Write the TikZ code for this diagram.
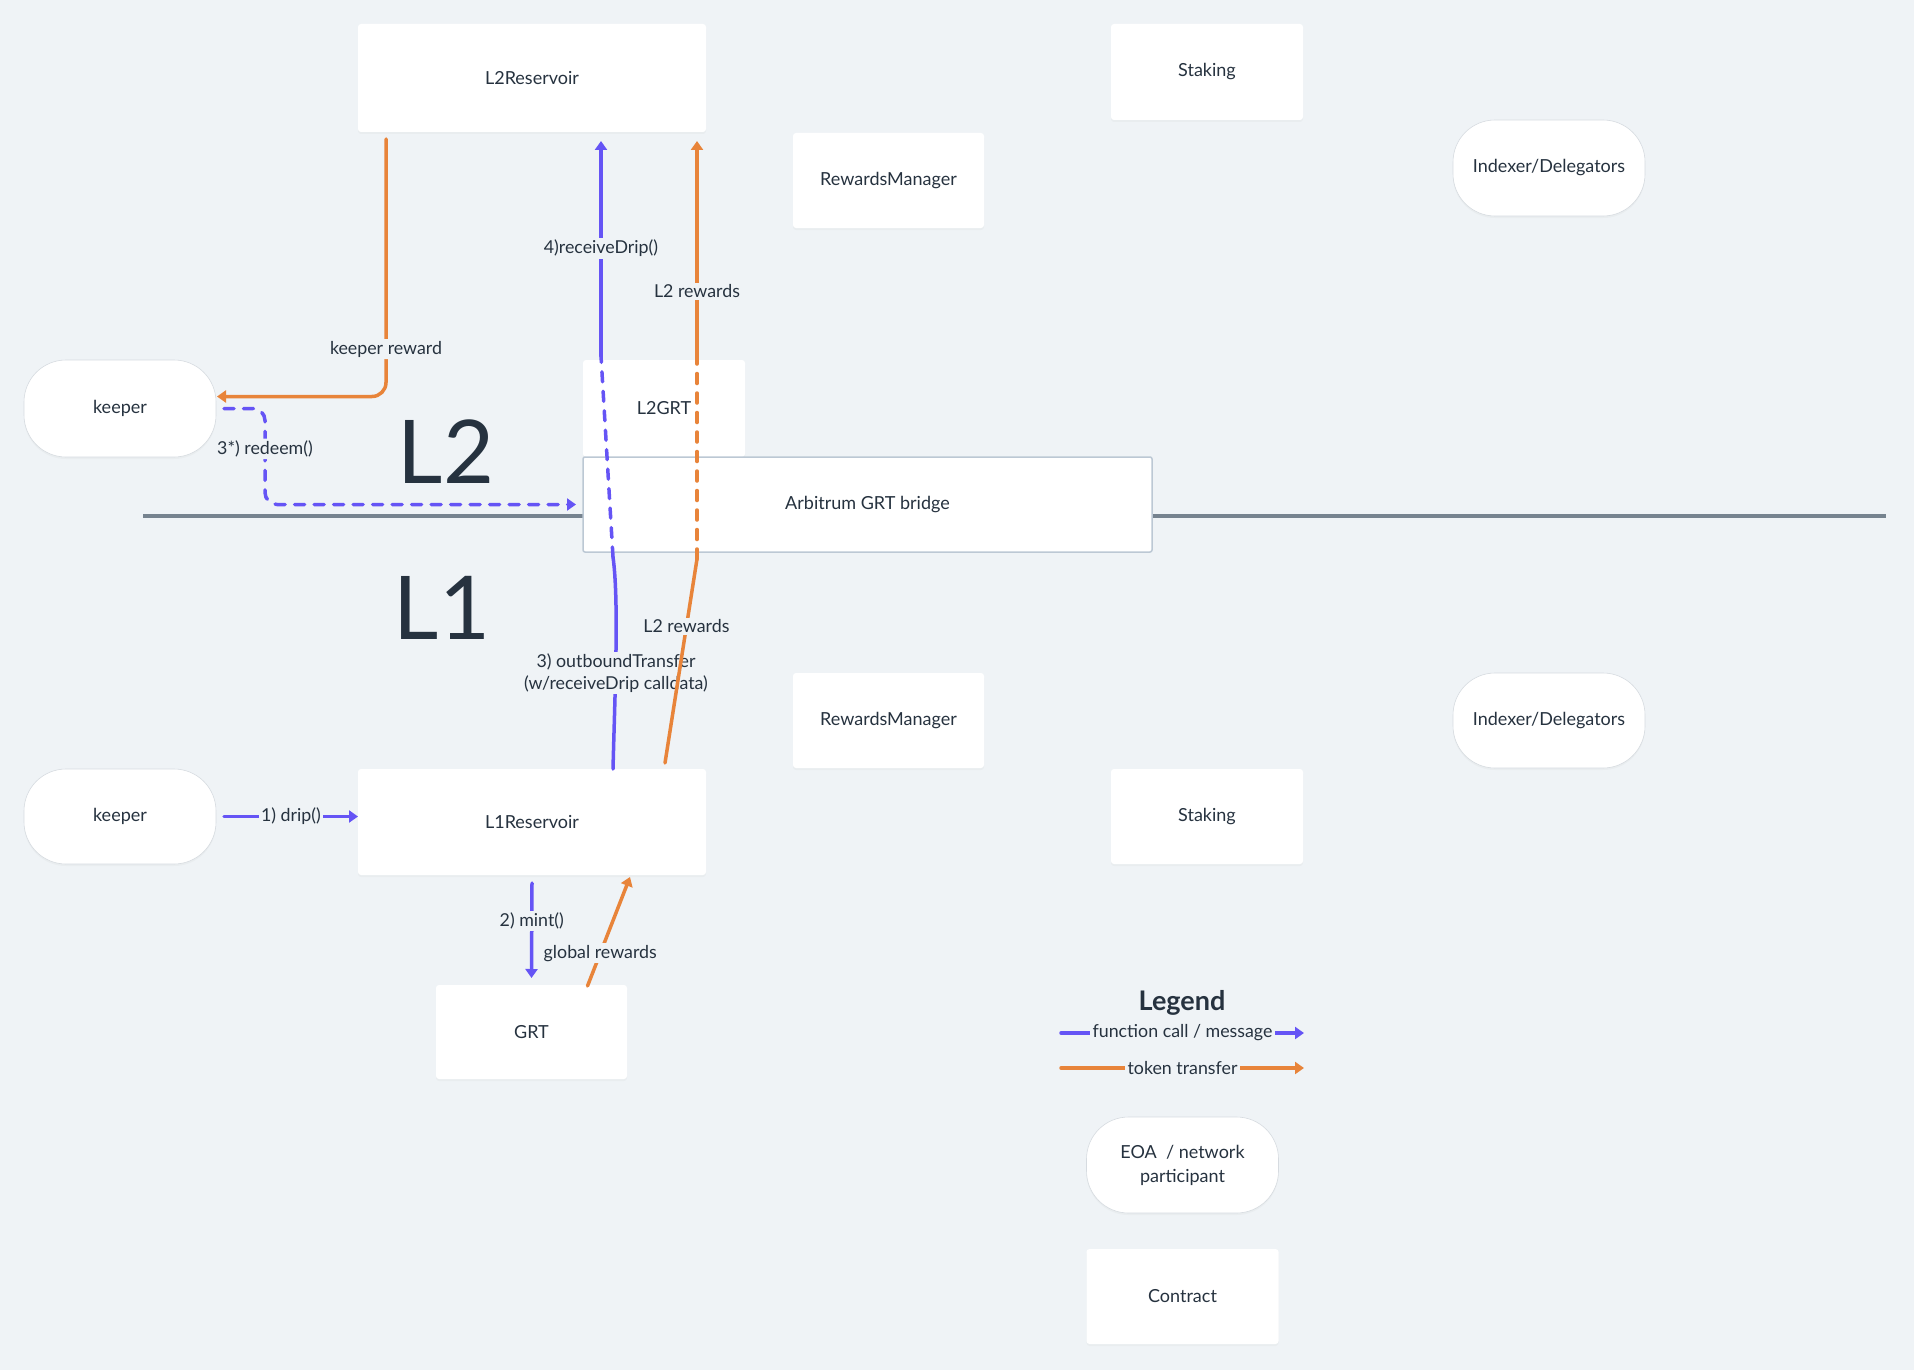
\documentclass[tikz,border=0pt]{standalone}
\usepackage{fontspec}
\setmainfont{Lato}
\usetikzlibrary{arrows.meta,calc,shadows}
\definecolor{bgc}{HTML}{EFF3F6}
\definecolor{textc}{HTML}{26323F}
\definecolor{fnc}{HTML}{6554F5}
\definecolor{tokc}{HTML}{E8843A}
\definecolor{divc}{HTML}{76838F}
\definecolor{bridgec}{HTML}{BCC8D4}
\definecolor{stadc}{HTML}{D6DBE0}
\begin{document}
\begin{tikzpicture}[x=1pt,y=-1pt,
  every node/.style={inner sep=0pt, outer sep=0pt, text=textc, font=\fontsize{18}{21}\selectfont, align=center},
  box/.style={fill=white, rounded corners=3pt, drop shadow={opacity=0.05, shadow xshift=0pt, shadow yshift=-2pt}},
  stadium/.style={fill=white, draw=stadc, line width=0.6pt, rounded corners=42pt, drop shadow={opacity=0.05, shadow xshift=0pt, shadow yshift=-2pt}},
  bridgebox/.style={fill=white, draw=bridgec, line width=1.5pt, rounded corners=2pt},
  fn/.style={draw=fnc, line width=3.5pt, line cap=round},
  tok/.style={draw=tokc, line width=3.5pt, line cap=round},
  dsh/.style={dash pattern=on 10pt off 9.5pt},
  tip/.style={-{Triangle[length=9pt,width=12pt]}},
  elab/.style={fill=bgc, inner sep=2pt, font=\fontsize{17.8}{21}\selectfont},
]
\fill[bgc] (0,0) rectangle (1914,1370);
\useasboundingbox (0,0) rectangle (1914,1370);

% divider
\draw[divc, line width=4pt] (143,516) -- (1886,516);

% big layer labels
\node[font=\fontsize{88}{88}\selectfont] (l2lab) at (446,452) {L2};
\node[font=\fontsize{88}{88}\selectfont] (l1lab) at (442,608) {L1};

% nodes
\node[box, minimum width=348pt, minimum height=108pt] (l2res) at (532,78) {L2Reservoir};
\node[box, minimum width=192pt, minimum height=96pt] (stakeTop) at (1207,72) {Staking};
\node[box, minimum width=191pt, minimum height=95pt] (rmTop) at (888.5,180.5) {RewardsManager};
\node[stadium, minimum width=192pt, minimum height=96pt] (idxTop) at (1549,168) {Indexer/Delegators};
\node[stadium, minimum width=192pt, minimum height=97pt] (keeperTop) at (120,408.5) {keeper};
\node[box, minimum width=162pt, minimum height=97pt] (l2grt) at (664,408.5) {L2GRT};
\node[bridgebox, minimum width=569pt, minimum height=95pt] (bridge) at (867.5,504.5) {Arbitrum GRT bridge};
\node[box, minimum width=191pt, minimum height=95pt] (rmBot) at (888.5,720.5) {RewardsManager};
\node[stadium, minimum width=192pt, minimum height=95pt] (idxBot) at (1549,720.5) {Indexer/Delegators};
\node[stadium, minimum width=192pt, minimum height=95pt] (keeperBot) at (120,816.5) {keeper};
\node[box, minimum width=348pt, minimum height=106pt] (l1res) at (532,822) {L1Reservoir};
\node[box, minimum width=192pt, minimum height=95pt] (stakeBot) at (1207,816.5) {Staking};
\node[box, minimum width=191pt, minimum height=94pt] (grt) at (531.5,1032) {GRT};
\node[stadium, minimum width=192pt, minimum height=96pt] (eoa) at (1182.5,1165) {EOA\ \ / network\\[3pt]participant};
\node[box, minimum width=192pt, minimum height=95pt] (contract) at (1182.5,1296.5) {Contract};

% waypoints
\coordinate (w1) at (613,557);
\coordinate (w2) at (601,356);
\coordinate (w3) at (697,559);
\coordinate (w4) at (697,356);

% keeper reward
\draw[tok, tip, rounded corners=14pt] ($(l2res.south west)+(28,7)$) |- ($(keeperTop.east)+(1,-12)$)
  node[elab, pos=0.408] {keeper reward};

% 3*) redeem()
\draw[fn, dsh, tip, rounded corners=12pt] ($(keeperTop.east)+(8,0)$) -- ++(41,0) |- ($(bridge.west)+(-7,0)$)
  node[elab, pos=0.21] {3*) redeem()};

% 3) outboundTransfer / 4) receiveDrip
\draw[fn] ($(l1res.north)+(81,0)$) .. controls (615,690) and (619,600) .. (w1);
\node[elab] (obt) at (616,673) {3) outboundTransfer\\[1pt](w/receiveDrip calldata)};
\draw[fn, dsh] (w1) -- (w2);
\draw[fn, tip] (w2) -- ($(l2res.south)+(69,9)$) node[elab, pos=0.5] {4)receiveDrip()};

% L2 rewards
\draw[tok] ($(l1res.north)+(133,-6)$) -- (w3) node[elab, pos=0.67] {L2 rewards};
\draw[tok, dsh] (w3) -- (w4);
\draw[tok, tip] (w4) -- ($(l2res.south east)+(-9,9)$) node[elab, pos=0.3] {L2 rewards};

% 1) drip()
\draw[fn, tip] ($(keeperBot.east)+(8,0)$) -- (l1res.west |- keeperBot.east) node[elab, pos=0.5] {1) drip()};

% 2) mint()
\draw[fn, tip] ($(l1res.south)+(0,8)$) -- ($(grt.north)+(0,-7)$) node[elab, pos=0.4] {2) mint()};

% global rewards
\draw[tok, tip] ($(grt.north)+(56,1)$) -- ($(l1res.south)+(98,2)$) node[elab, pos=0.3] {global rewards};

% legend
\node[font=\bfseries\fontsize{27}{30}\selectfont] (legend) at (1182,1003) {Legend};
\coordinate (lg1a) at (1061,1033);
\coordinate (lg1b) at (1304,1033);
\coordinate (lg2a) at (1061,1068);
\coordinate (lg2b) at (1304,1068);
\draw[fn, tip] (lg1a) -- (lg1b) node[elab, inner sep=3pt, pos=0.5] {function call / message};
\draw[tok, tip] (lg2a) -- (lg2b) node[elab, inner sep=3pt, pos=0.5] {token transfer};
\end{tikzpicture}
\end{document}
